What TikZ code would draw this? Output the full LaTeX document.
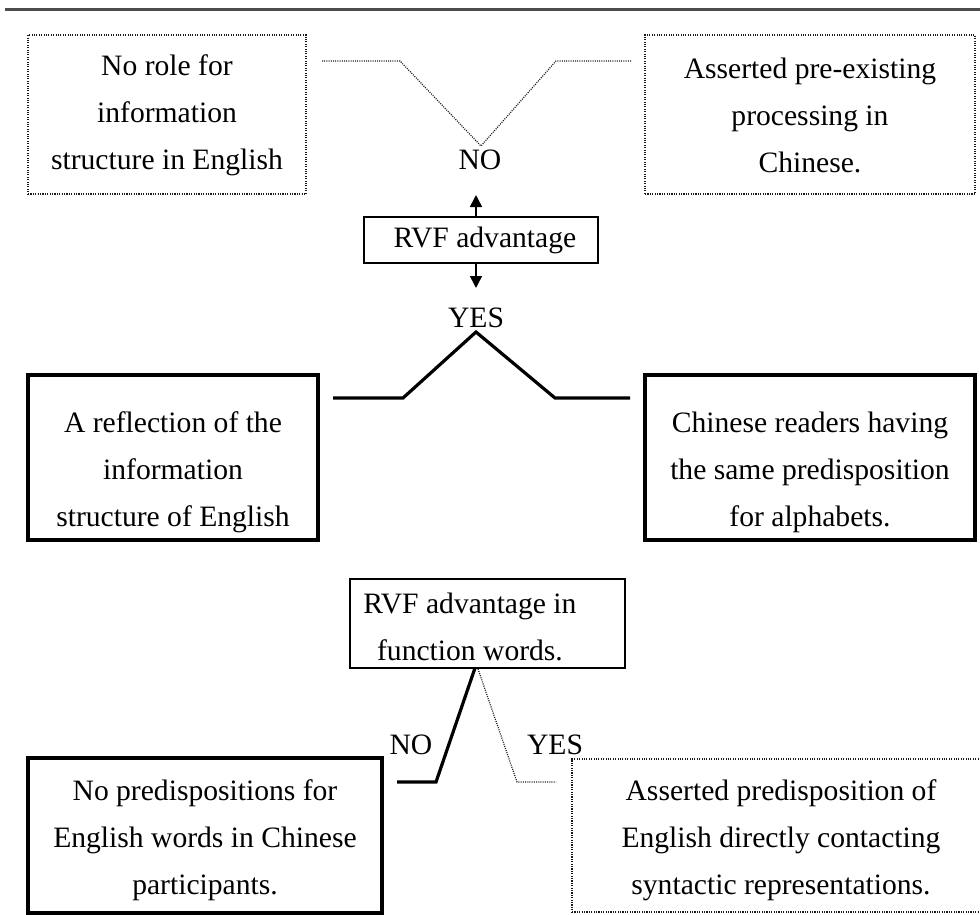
\documentclass[tikz,border=0pt]{standalone}
\usepackage{fontspec}
\setmainfont{Liberation Serif}
\usetikzlibrary{arrows.meta}
\begin{document}
\begin{tikzpicture}[x=1pt,y=-1pt,
  txt/.style={align=center,inner sep=0pt,font=\fontsize{29.6}{47}\selectfont},
  dotbox/.style={draw=black!90,line width=1.6pt,dash pattern=on 1.1pt off 1.3pt,inner sep=0pt},
  thickbox/.style={draw=black,line width=3.2pt,inner sep=0pt},
  thinbox/.style={draw=black,line width=1.6pt,inner sep=0pt},
  dotline/.style={draw=black!90,line width=1.2pt,dash pattern=on 1pt off 1.2pt},
  solidline/.style={draw=black,line width=3.2pt},
  arr/.style={draw=black,line width=1.5pt,-{Triangle[length=12pt,width=12pt]}}]
\useasboundingbox (0,0) rectangle (980,915);
\clip (0,0) rectangle (980,915);
% top rule
\coordinate (r1) at (5,10);
\coordinate (r2) at (980,10);
\draw[line width=3pt,draw=black!70] (r1) -- (r2);
% top boxes
\node[dotbox,minimum width=278pt,minimum height=159pt] (b1) at (167,114.5) {};
\node[txt] (t1) at (167,115) {No role for\\information\\structure in English};
\node[dotbox,minimum width=330pt,minimum height=159pt] (b2) at (810,114.5) {};
\node[txt] (t2) at (810,115) {Asserted pre-existing\\processing in\\Chinese.};
% NO (top)
\node[txt] (no1) at (480,160) {NO};
\coordinate (v1a) at (322,61);
\coordinate (v1b) at (400,61);
\coordinate (v1c) at (481,146);
\coordinate (v1d) at (556,61);
\coordinate (v1e) at (632,61);
\draw[dotline] (v1a) -- (v1b) -- (v1c) -- (v1d) -- (v1e);
% RVF advantage
\node[thinbox,minimum width=234pt,minimum height=46pt] (rvf) at (481,240) {};
\node[txt] (trvf) at (485,240) {RVF advantage};
\coordinate (au0) at (476,217);
\coordinate (au1) at (476,195);
\coordinate (ad0) at (476,263);
\coordinate (ad1) at (476,288);
\draw[arr] (au0) -- (au1);
\draw[arr] (ad0) -- (ad1);
\node[txt] (yes1) at (476,318) {YES};
\coordinate (v2a) at (333,398);
\coordinate (v2b) at (403,398);
\coordinate (v2c) at (476,332);
\coordinate (v2d) at (555,398);
\coordinate (v2e) at (630,398);
\draw[solidline,line join=miter] (v2a) -- (v2b) -- (v2c) -- (v2d) -- (v2e);
% middle boxes
\node[thickbox,minimum width=290pt,minimum height=165pt] (b3) at (173,457.5) {};
\node[txt] (t3) at (173,472) {A reflection of the\\information\\structure of English};
\node[thickbox,minimum width=330pt,minimum height=165pt] (b4) at (810,457.5) {};
\node[txt] (t4) at (810,472) {Chinese readers having\\the same predisposition\\for alphabets.};
% RVF advantage in function words
\node[thinbox,minimum width=275pt,minimum height=89pt] (b5) at (487.5,623.5) {};
\node[txt] (t5) at (470,627) {RVF advantage in\\function words.};
\coordinate (n0) at (475,668);
\coordinate (n1) at (436,782);
\coordinate (n2) at (397,782);
\draw[solidline,line join=miter] (n0) -- (n1) -- (n2);
\coordinate (y0) at (478,669);
\coordinate (y1) at (517,782);
\coordinate (y2) at (556,782);
\draw[dotline] (y0) -- (y1) -- (y2);
\node[txt] (no2) at (411,745) {NO};
\node[txt] (yes2) at (555,745) {YES};
% bottom boxes
\node[thickbox,minimum width=354pt,minimum height=155pt] (b6) at (205,835.5) {};
\node[txt] (t6) at (205,840) {No predispositions for\\English words in Chinese\\participants.};
\node[dotbox,minimum width=428pt,minimum height=153pt] (b7) at (786,835.5) {};
\node[txt] (t7) at (781,840) {Asserted predisposition of\\English directly contacting\\syntactic representations.};
\end{tikzpicture}
\end{document}
